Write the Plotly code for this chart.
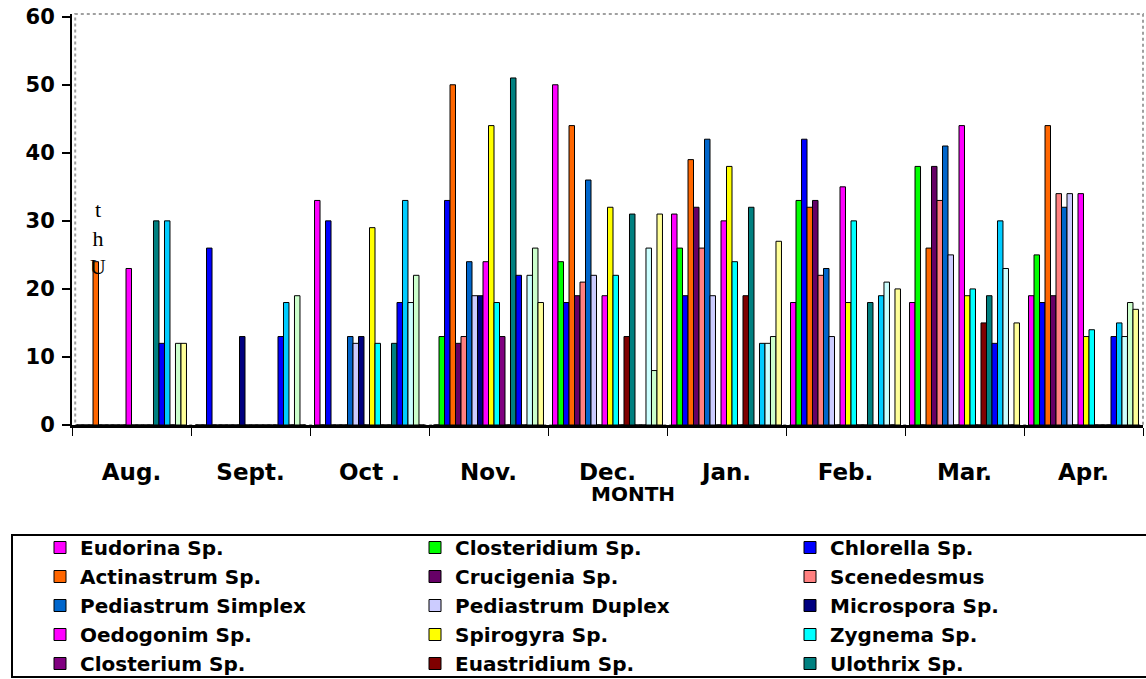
import plotly.graph_objects as go

months = ["Aug.", "Sept.", "Oct .", "Nov.", "Dec.", "Jan.", "Feb.", "Mar.", "Apr."]

series_names = [
    "Eudorina Sp.", "Closteridium Sp.", "Chlorella Sp.",
    "Actinastrum Sp.", "Crucigenia Sp.", "Scenedesmus",
    "Pediastrum Simplex", "Pediastrum Duplex", "Microspora Sp.",
    "Oedogonim Sp.", "Spirogyra Sp.", "Zygnema Sp.",
    "Closterium Sp.", "Euastridium Sp.", "Ulothrix Sp.",
    "Series 16", "Series 17", "Series 18", "Series 19", "Series 20",
]

eudorina      = [0, 0, 33, 0, 50, 31, 18, 18, 19]
closteridium  = [0, 0, 0, 13, 24, 26, 33, 38, 25]
chlorella     = [0, 26, 30, 33, 18, 19, 42, 0, 18]
actinastrum   = [24, 0, 0, 50, 44, 39, 32, 26, 44]
crucigenia    = [0, 0, 0, 12, 19, 32, 33, 38, 19]
scenedesmus   = [0, 0, 0, 13, 21, 26, 22, 33, 34]
ped_simplex   = [0, 0, 13, 24, 36, 42, 23, 41, 32]
ped_duplex    = [0, 0, 12, 19, 22, 19, 13, 25, 34]
microspora    = [0, 13, 13, 19, 0, 0, 0, 0, 0]
oedogonim     = [23, 0, 0, 24, 19, 30, 35, 44, 34]
spirogyra     = [0, 0, 29, 44, 32, 38, 18, 19, 13]
zygnema       = [0, 0, 12, 18, 22, 24, 30, 20, 14]
closterium    = [0, 0, 0, 13, 0, 0, 0, 0, 0]
euastridium   = [0, 0, 0, 0, 13, 19, 0, 15, 0]
ulothrix      = [30, 0, 12, 51, 31, 32, 18, 19, 0]
series16      = [12, 13, 18, 22, 0, 0, 0, 12, 13]
series17      = [30, 18, 33, 0, 0, 12, 19, 30, 15]
series18      = [0, 0, 18, 22, 26, 12, 21, 23, 13]
series19      = [12, 19, 22, 26, 8, 13, 0, 0, 18]
series20      = [12, 0, 0, 18, 31, 27, 20, 15, 17]

all_values = [eudorina, closteridium, chlorella, actinastrum, crucigenia,
              scenedesmus, ped_simplex, ped_duplex, microspora, oedogonim,
              spirogyra, zygnema, closterium, euastridium, ulothrix,
              series16, series17, series18, series19, series20]

colors = ["#FF00FF", "#00FF00", "#0000FF", "#FF6600", "#660066", "#FF8080",
          "#0066CC", "#CCCCFF", "#000080", "#FF00FF", "#FFFF00", "#00FFFF",
          "#800080", "#800000", "#008080", "#0000FF", "#00CCFF", "#CCFFFF",
          "#CCFFCC", "#FFFF99"]

FONT = "DejaVu Sans, Arial, sans-serif"

fig = go.Figure()
for i, (name, vals, col) in enumerate(zip(series_names, all_values, colors)):
    fig.add_trace(go.Bar(
        x=months, y=vals, name=name,
        marker=dict(color=col, line=dict(color="black", width=1)),
        showlegend=(i < 15),
    ))

# body margin is removed by post_script, so figure coordinates = screen coordinates
W, H = 1146, 679
ml, mr, mt, mb = 72, 3, 14, H - 425
pw = W - ml - mr
ph = H - mt - mb

def px_x(sx):
    return (sx - ml) / pw

def px_y(sy):
    return (H - mb - sy) / ph

fig.update_layout(
    width=W, height=H,
    margin=dict(l=ml, r=mr, t=mt, b=mb, pad=0, autoexpand=False),
    paper_bgcolor="white", plot_bgcolor="white",
    barmode="group", bargap=0.076, bargroupgap=0,
    font=dict(family=FONT, color="black"),
    xaxis=dict(
        showline=True, linecolor="black", linewidth=3,
        ticks="outside", tickson="boundaries", ticklen=8, tickwidth=1, tickcolor="black",
        tickfont=dict(family=FONT, size=23, weight="bold", color="black"),
        ticklabelstandoff=24, automargin=False,
        showgrid=False, zeroline=False,
    ),
    yaxis=dict(
        range=[0, 60.4], tickvals=[0, 10, 20, 30, 40, 50, 60],
        showline=True, linecolor="black", linewidth=2,
        ticks="outside", ticklen=8, tickwidth=2, tickcolor="black",
        tickfont=dict(family=FONT, size=21, weight="bold", color="black"),
        ticklabelstandoff=3, automargin=False, ticklabeloverflow="allow",
        showgrid=False, zeroline=False,
    ),
    legend=dict(
        orientation="h", x=px_x(40), xanchor="left", y=px_y(528), yanchor="top",
        entrywidth=330, entrywidthmode="pixels",
        font=dict(family=FONT, size=20, weight="bold", color="black"),
        bgcolor="rgba(0,0,0,0)", borderwidth=0, traceorder="normal",
        itemwidth=30,
    ),
    shapes=[
        dict(type="rect", xref="paper", yref="paper", x0=0.003, x1=1, y0=0, y1=1,
             line=dict(color="#A0A0A0", width=2, dash="dot"), layer="below"),
        dict(type="rect", xref="paper", yref="paper",
             x0=px_x(12), x1=px_x(1165), y0=px_y(677), y1=px_y(535),
             line=dict(color="black", width=2)),
    ],
    annotations=[
        dict(text="MONTH", xref="paper", yref="paper", x=px_x(633), y=px_y(494),
             xanchor="center", yanchor="middle",
             showarrow=False, font=dict(family=FONT, size=20, weight="bold", color="black")),
        dict(text="t<br>h<br>U", xref="paper", yref="paper", x=px_x(98), y=px_y(238),
             xanchor="center", yanchor="middle",
             showarrow=False, align="center",
             font=dict(family="Liberation Serif", size=22, color="black")),
    ],
)

fig.write_html(
    "out.html",
    config={"displayModeBar": False},
    post_script="document.body.style.margin='0';document.body.style.overflow='hidden';",
)
